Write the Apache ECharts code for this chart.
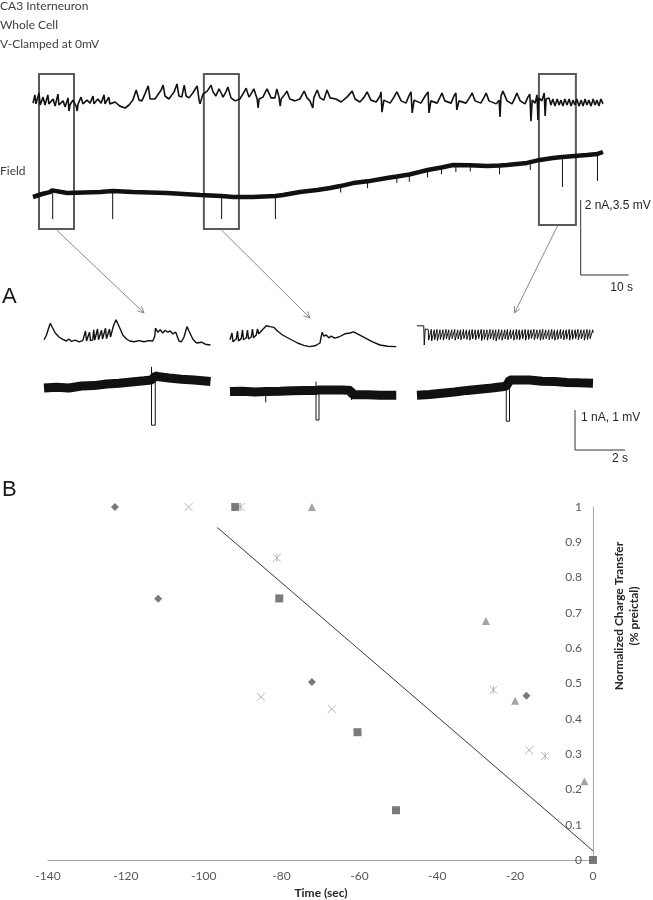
<!DOCTYPE html>
<html><head><meta charset="utf-8">
<script src="https://cdn.jsdelivr.net/npm/echarts/dist/echarts.min.js"></script>
<style>html,body{margin:0;padding:0;background:#fff}#c{width:653px;height:900px}</style>
</head><body><div id="c"></div>
<script>
// ---------- Panel A : overview traces (time in s, cell current in nA, field in mV)
const cellTrace = [
[0,-0.03],[0.4,0.19],[0.6,-0.05],[1.25,0.24],[1.5,-0.08],[2.1,0.13],[2.5,-0.08],[3.1,0.19],[3.3,-0.05],[4.2,0.08],[4.6,-0.11],[5.2,0.21],[5.4,-0.08],[6.25,0.03],[6.7,-0.13],[7.3,0.11],[7.5,-0.24],[7.7,-0.08],[8.3,0.05],[9.0,-0.11],[9.2,-0.24],[9.4,-0.05],[10.0,0.13],[10.4,-0.05],[11.25,0.05],[11.9,-0.03],[12.5,0.16],[12.7,-0.05],[13.5,0.08],[14.2,-0.03],[14.8,0.19],[15.0,-0.05],[15.8,0.13],[16.0,-0.05],[17.1,0.0],[18.1,-0.11],[19.2,-0.16],[20.0,-0.08],
[20.8,0.05],[21.5,0.32],[21.7,0.37],[22.1,0.05],[22.7,0.03],[23.3,0.21],[24.0,0.43],[24.4,0.08],[25.4,0.08],[26.7,0.32],[27.1,0.45],[27.5,0.16],[28.3,0.08],[29.4,0.27],[30.0,0.48],[30.4,0.16],[31.0,0.13],[31.5,0.45],[31.9,0.16],[32.5,0.11],[33.3,0.24],[34.2,0.43],[34.6,0.05],[34.8,-0.05],[35.4,0.21],[36.3,0.29],[37.1,0.45],[37.5,0.27],[38.1,0.16],[38.75,0.35],[39.2,0.24],[39.6,0.13],[40.2,0.27],[40.6,0.40],[41.25,0.11],[42.1,0.03],[43.1,0.08],[44.0,0.27],[44.4,0.37],[45.0,0.13],[45.4,0.21],[46.0,0.35],[46.7,0.08],[46.9,-0.16],[47.1,0.08],[47.9,0.13],[48.75,0.35],[49.6,0.11],[50.4,0.11],[50.8,0.35],[51.25,0.13],[51.5,-0.11],[51.7,0.08],[52.5,0.21],[52.9,0.29],[53.5,0.08],[54.6,0.03],[55.6,0.08],[56.5,0.29],[57.1,0.11],[57.7,0.03],[58.3,-0.16],[58.5,0.11],[59.2,0.32],[59.8,0.11],[60.6,0.05],[61.25,0.32],[61.9,0.11],[63.1,0.08],
[64.2,0.0],[65.4,0.13],[66.5,0.29],[67.1,0.08],[68.1,0.0],[69.0,0.13],[69.6,0.27],[70.4,0.05],[71.5,0.0],[72.3,0.16],[72.5,0.27],[72.7,-0.27],[73.1,0.05],[74.4,-0.03],[75.2,0.13],[75.8,0.27],[76.7,0.03],[77.7,-0.03],[78.3,0.16],[78.75,0.27],[79.0,-0.29],[79.4,0.05],[80.8,-0.03],[81.7,0.16],[82.3,0.27],[82.5,-0.29],[82.9,0.03],[84.2,-0.03],[84.8,0.13],[85.2,0.24],[85.8,0.03],[87.1,-0.03],[87.7,0.16],[88.1,0.24],[88.3,-0.21],[88.75,0.03],[90.2,-0.03],[91.0,0.13],[91.5,0.24],[92.1,0.03],[93.3,-0.03],[94.0,0.13],[94.4,0.24],[95.0,0.03],[96.5,-0.05],[97.1,0.05],[97.3,-0.40],[97.5,0.16],[97.9,0.29],[98.75,0.03],[99.8,-0.05],[100.4,0.11],[100.8,0.24],[101.5,0.03],[102.5,-0.05],[103.1,0.13],[103.5,0.21],[103.75,-0.51],[104.0,0.05],[104.6,-0.03],[105.0,0.19],[105.2,-0.48],[105.4,0.11],[106.0,0.03],[106.5,0.24],[106.7,-0.37],[106.9,0.08],
[107.5,0.11],[107.9,-0.08],[108.3,0.08],[108.75,-0.11],[109.2,0.08],[109.6,-0.08],[110.0,0.05],[110.4,-0.11],[110.8,0.08],[111.25,-0.08],[111.7,0.08],[112.1,-0.11],[112.5,0.05],[112.9,-0.08],[113.3,0.08],[113.75,-0.11],[114.2,0.05],[114.6,-0.11],[115.0,0.08],[115.4,-0.08],[115.8,0.05],[116.25,-0.11],[116.7,0.08],[117.1,-0.08],[117.5,0.05],[117.9,-0.11],[118.3,0.08],[118.75,-0.05]
];
const fieldTrace = [
[0,-0.21],[1.9,-0.07],[3.5,0.02],[4.0,0.1],[7.1,-0.02],[14.0,0.02],[16.6,0.07],[20.8,0.02],[27.9,-0.02],[34.8,-0.12],[39.3,-0.16],[41.7,-0.21],[45.8,-0.21],[50.5,-0.16],[52.1,-0.12],[55.6,0.02],[59.2,0.12],[61.9,0.21],[64.0,0.30],[66.7,0.44],[69.7,0.52],[73.75,0.68],[75.8,0.75],[78.4,0.84],[80.6,0.96],[82.2,1.05],[85.1,1.17],[87.5,1.28],[91.0,1.27],[94.6,1.24],[97.2,1.26],[98.75,1.28],[102.9,1.38],[103.6,1.42],[105.6,1.52],[108.3,1.61],[110.3,1.66],[115.4,1.75],[117.6,1.80],[118.75,1.89]
];
const fieldSpikes = [
[4.1,0.07],[4.1,-1.24],'-',[16.6,0.07],[16.6,-1.24],'-',[39.3,-0.16],[39.3,-1.24],'-',[50.5,-0.16],[50.5,-1.24],'-',
[64.1,0.3],[64.1,0.0],'-',[69.7,0.52],[69.7,0.2],'-',[75.8,0.75],[75.8,0.45],'-',[78.4,0.84],[78.4,0.5],'-',[82.2,1.05],[82.2,0.7],'-',[85.1,1.17],[85.1,0.85],'-',[88.1,1.28],[88.1,0.95],'-',[91.1,1.27],[91.1,0.98],'-',[97.2,1.26],[97.2,0.85],'-',[103.6,1.42],[103.6,1.05],'-',[110.3,1.66],[110.3,0.26],'-',[117.6,1.80],[117.6,0.54]
];
// boxes marking the expanded windows (s), top in nA, bottom in mV
const boxStart = [1.25, 35.6, 105.4];
const boxEnd = [8.54, 42.9, 113.1];
const boxTopNA = 0.75;
const boxBottomMV = [-1.70, -1.70, -1.52];

// ---------- Panel A : expanded windows
const snipSpan = [6.64, 6.64, 7.04];
const snipCell1 = [[0,0.03],[0.1,0.15],[0.2,0.35],[0.25,0.44],[0.3,0.38],[0.45,0.2],[0.6,0.1],[0.75,0.04],[0.9,0.0],[1.0,0.05],[1.1,-0.01],[1.25,0.02],[1.4,-0.02],[1.55,0.01],[1.62,0.0],[1.66,0.25],[1.7,0.0],[1.78,0.02],[1.82,0.22],[1.86,0.01],[1.95,0.03],[1.99,0.28],[2.03,0.02],[2.1,0.04],[2.14,0.3],[2.18,0.03],[2.26,0.05],[2.3,0.27],[2.34,0.05],[2.42,0.06],[2.46,0.32],[2.5,0.06],[2.58,0.08],[2.62,0.3],[2.66,0.1],[2.72,0.15],[2.78,0.38],[2.88,0.53],[2.94,0.45],[3.0,0.41],[3.05,0.3],[3.15,0.15],[3.3,0.05],[3.43,0.0],[3.6,-0.02],[3.8,0.01],[4.0,-0.02],[4.2,0.01],[4.35,0.0],[4.43,0.12],[4.46,0.32],[4.55,0.22],[4.65,0.28],[4.75,0.2],[4.85,0.27],[4.95,0.22],[5.05,0.25],[5.15,0.18],[5.27,0.22],[5.4,0.0],[5.5,-0.02],[5.6,0.1],[5.72,0.36],[5.8,0.25],[5.95,0.05],[6.1,-0.05],[6.3,-0.03],[6.45,-0.08],[6.66,-0.1]];
const snipCell2 = [[0,0.03],[0.08,0.2],[0.12,-0.02],[0.25,0.05],[0.3,0.25],[0.34,0.0],[0.45,0.06],[0.5,0.28],[0.54,0.03],[0.65,0.08],[0.7,0.27],[0.74,0.05],[0.85,0.1],[0.9,0.3],[0.94,0.08],[1.05,0.15],[1.1,0.3],[1.15,0.18],[1.3,0.28],[1.45,0.38],[1.51,0.42],[1.6,0.36],[1.76,0.34],[1.9,0.25],[2.1,0.15],[2.4,0.05],[2.7,-0.05],[2.95,-0.11],[3.18,-0.14],[3.4,-0.12],[3.6,-0.05],[3.65,0.12],[3.69,0.22],[3.75,0.12],[3.85,0.15],[3.95,0.08],[4.05,0.12],[4.19,0.07],[4.35,0.1],[4.6,0.18],[4.8,0.2],[4.94,0.23],[5.1,0.18],[5.4,0.08],[5.7,-0.02],[6.0,-0.1],[6.3,-0.13],[6.65,-0.14]];
const snipCell3 = [[0,0.38],[0.27,0.38],[0.29,-0.1],[0.33,0.3],
[0.45,0.29],[0.465,0.02],[0.57,0.29],[0.585,0.0],[0.69,0.28],[0.705,0.03],[0.80,0.29],[0.815,0.01],[0.92,0.28],[0.935,0.04],[1.04,0.28],[1.055,0.02],[1.16,0.29],[1.175,0.05],[1.27,0.28],[1.285,0.03],[1.39,0.28],[1.405,0.06],[1.51,0.29],[1.525,0.02],[1.63,0.28],[1.645,0.05],[1.74,0.28],[1.755,0.03],[1.86,0.29],[1.875,0.06],[1.98,0.28],[1.995,0.04],[2.10,0.28],[2.115,0.02],[2.21,0.29],[2.225,0.05],[2.33,0.28],[2.345,0.03],[2.45,0.28],[2.465,0.06],[2.57,0.29],[2.585,0.01],[2.68,0.28],[2.695,0.04],[2.80,0.28],[2.815,0.02],[2.92,0.29],[2.935,0.05],[3.04,0.28],[3.055,0.03],[3.15,0.28],[3.165,0.0],[3.27,0.29],[3.285,0.04],[3.39,0.28],[3.405,0.02],[3.51,0.28],[3.525,0.05],[3.62,0.29],[3.635,0.03],[3.74,0.28],[3.755,0.06],[3.86,0.28],[3.875,0.02],[3.98,0.29],[3.995,0.04],[4.09,0.28],[4.105,0.03],[4.21,0.28],[4.225,0.05],[4.33,0.29],[4.345,0.02],[4.45,0.28],[4.465,0.04],[4.56,0.28],[4.575,0.06],[4.68,0.29],[4.695,0.03],[4.80,0.28],[4.815,0.05],[4.92,0.28],[4.935,0.02],[5.03,0.29],[5.045,0.04],[5.15,0.28],[5.165,0.06],[5.27,0.28],[5.285,0.03],[5.39,0.29],[5.405,0.05],[5.50,0.28],[5.515,0.02],[5.62,0.28],[5.635,0.04],[5.74,0.29],[5.755,0.06],[5.86,0.28],[5.875,0.03],[5.97,0.28],[5.985,0.05],[6.09,0.29],[6.105,0.02],[6.21,0.28],[6.225,0.04],[6.33,0.28],[6.345,0.06],[6.44,0.29],[6.455,0.03],[6.56,0.28],[6.575,0.05],[6.68,0.28],[6.695,0.02],[6.80,0.29],[6.815,0.04],[6.91,0.28],[6.925,0.06],[7.03,0.28],[7.04,0.2]];
const snipField1 = [[0,0.0],[0.5,0.02],[1.0,0.0],[1.5,0.05],[2.0,0.06],[2.5,0.1],[3.0,0.12],[3.5,0.15],[4.0,0.18],[4.3,0.2],[4.45,0.3],[4.6,0.28],[5.0,0.25],[5.5,0.22],[6.0,0.2],[6.66,0.16]];
const snipField2 = [[0,-0.09],[0.5,-0.08],[1.0,-0.1],[1.43,-0.09],[2.0,-0.08],[2.5,-0.07],[3.0,-0.06],[3.44,-0.06],[3.56,-0.05],[4.0,-0.05],[4.5,-0.05],[4.84,-0.06],[4.88,-0.17],[5.5,-0.17],[6.0,-0.18],[6.65,-0.18]];
const snipField3 = [[0,-0.18],[0.5,-0.16],[1.0,-0.13],[1.5,-0.1],[2.0,-0.06],[2.5,-0.03],[3.0,0.0],[3.4,0.03],[3.57,0.05],[3.72,0.2],[3.9,0.2],[4.5,0.2],[5.0,0.17],[5.5,0.16],[6.0,0.14],[6.5,0.13],[7.04,0.12]];
const snipPulse1 = [[4.3,0.53],[4.3,-0.93],[4.45,-0.93],[4.45,0.28]];
const snipPulse2 = [[1.43,-0.09],[1.43,-0.36],'-',[3.44,0.16],[3.44,-0.8],[3.56,-0.8],[3.56,-0.05],'-',[4.86,-0.06],[4.86,-0.3]];
const snipPulse3 = [[3.57,0.24],[3.57,-0.83],[3.7,-0.83],[3.7,0.2]];
const arrowTip = [[4.0,0.7],[3.2,0.575],[3.9,0.7]];

// ---------- Panel B : normalized charge transfer vs time
const xTicks = {min:-140, max:0, interval:20};
const diamondPts = [[-122.8,1.0],[-111.7,0.74],[-72.2,0.504],[-17.1,0.465]];
const crossPts = [[-103.9,1.0],[-85.3,0.462],[-67.1,0.428],[-16.4,0.311]];
const squarePts = [[-91.9,1.0],[-80.6,0.741],[-60.5,0.362],[-50.6,0.141],[0,0]];
const starPts = [[-90.5,1.0],[-81.2,0.856],[-25.6,0.482],[-12.3,0.295]];
const trianglePts = [[-72.2,1.0],[-27.5,0.677],[-20.0,0.451],[-2.2,0.223]];
const trendLine = [[-96.5,0.942],[0,0.026]];

const traceGrids = [
  {left:33, top:72, width:570, height:60},   // 0 cell overview
  {left:33, top:140, width:570, height:90},  // 1 field overview
  {left:44, top:310, width:166, height:60},  // 2 cell snip 1
  {left:230, top:310, width:166, height:60}, // 3 cell snip 2
  {left:417, top:310, width:176, height:60}, // 4 cell snip 3
  {left:44, top:360, width:166, height:70},  // 5 field snip 1
  {left:230, top:360, width:166, height:70}, // 6 field snip 2
  {left:417, top:360, width:176, height:70}  // 7 field snip 3
];
const xr = [[0,118.75],[0,118.75],[0,snipSpan[0]],[0,snipSpan[1]],[0,snipSpan[2]],[0,snipSpan[0]],[0,snipSpan[1]],[0,snipSpan[2]]];
const yr = [[-0.8,0.8],[-1.75,2.45],[-0.725,0.775],[-0.725,0.775],[-0.725,0.775],[-1.05,0.7],[-1.05,0.7],[-1.05,0.7]];

const grids = traceGrids.concat([{left:48, top:507, width:545, height:353}]);
const xAxes = xr.map((r,i)=>({gridIndex:i, type:'value', min:r[0], max:r[1], show:false}));
const yAxes = yr.map((r,i)=>({gridIndex:i, type:'value', min:r[0], max:r[1], show:false}));
const lblFont = {color:'#595959', fontFamily:'Lato', fontSize:12};
xAxes.push({gridIndex:8, type:'value', min:xTicks.min, max:xTicks.max, interval:xTicks.interval,
  axisLine:{show:true, onZero:false, lineStyle:{color:'#a6a6a6', width:1}}, axisTick:{show:false}, splitLine:{show:false},
  axisLabel:Object.assign({margin:10}, lblFont)});
yAxes.push({gridIndex:8, type:'value', min:0, max:1, interval:0.1, position:'right',
  axisLine:{show:true, onZero:false, lineStyle:{color:'#a6a6a6', width:1}}, axisTick:{show:false}, splitLine:{show:false},
  axisLabel:Object.assign({inside:true, margin:11}, lblFont)});

function trace(idx, data, w){
  return {type:'line', xAxisIndex:idx, yAxisIndex:idx, data:data, symbol:'none', silent:true, clip:false,
    lineStyle:{color:'#111', width:w}, connectNulls:false};
}
const series = [
  trace(0, cellTrace, 1.6),
  trace(1, fieldTrace, 4.5),
  trace(1, fieldSpikes, 1),
  trace(2, snipCell1, 1.4), trace(3, snipCell2, 1.4), trace(4, snipCell3, 1),
  trace(5, snipField1, 9), trace(6, snipField2, 9), trace(7, snipField3, 9),
  trace(5, snipPulse1, 1), trace(6, snipPulse2, 1), trace(7, snipPulse3, 1)
];
function sc(data, symbol, size, style){
  return {type:'scatter', xAxisIndex:8, yAxisIndex:8, data:data, symbol:symbol, symbolSize:size, itemStyle:style, z:5};
}
series.push({type:'line', xAxisIndex:8, yAxisIndex:8, data:trendLine, symbol:'none', lineStyle:{color:'#3a3a3a', width:1}, z:3});
series.push(sc(diamondPts, 'diamond', 8, {color:'#595959'}));
series.push(sc(crossPts, 'path://M0,0L10,10M10,0L0,10', 8, {color:'transparent', borderColor:'#a6a6a6', borderWidth:1}));
series.push(sc(squarePts, 'rect', 8, {color:'#595959'}));
series.push(sc(starPts, 'path://M0,0L10,10M10,0L0,10M5,0L5,10', 8, {color:'transparent', borderColor:'#a6a6a6', borderWidth:1}));
series.push(sc(trianglePts, 'triangle', 8, {color:'#8c8c8c'}));

const chart = echarts.init(document.getElementById('c'));
chart.setOption({animation:false, backgroundColor:'#fff', grid:grids, xAxis:xAxes, yAxis:yAxes, series:series});

const P = (g, pt) => chart.convertToPixel({gridIndex:g}, pt);
function txt(x, y, text, font, fill, align, rot){
  return {type:'text', x:x, y:y, rotation:rot||0, silent:true,
    style:{text:text, font:font, fill:fill||'#404040', align:align||'left', verticalAlign:'middle', textAlign:align||'left', textVerticalAlign:'middle'}};
}
const G = [];
const bodyFont = '12px Lato';
G.push(txt(0, 6, 'CA3 Interneuron', bodyFont));
G.push(txt(0, 25, 'Whole Cell', bodyFont));
G.push(txt(0, 44, 'V-Clamped at 0mV', bodyFont));
G.push(txt(0, 171, 'Field', bodyFont));
G.push(txt(2, 297, 'A', '22px "Liberation Sans"', '#1a1a1a'));
G.push(txt(2, 490, 'B', '22px "Liberation Sans"', '#1a1a1a'));
// boxes and arrows
for (let i = 0; i < 3; i++) {
  const a = P(0, [boxStart[i], boxTopNA]);
  const b = P(1, [boxEnd[i], boxBottomMV[i]]);
  G.push({type:'rect', silent:true, shape:{x:a[0], y:a[1], width:b[0]-a[0], height:b[1]-a[1]}, style:{fill:'none', stroke:'#595959', lineWidth:2}});
  const s = [(a[0]+b[0])/2, b[1]+1];
  const t = P(2+i, arrowTip[i]);
  G.push({type:'line', silent:true, shape:{x1:s[0], y1:s[1], x2:t[0], y2:t[1]}, style:{stroke:'#8a8a8a', lineWidth:1}});
  const ang = Math.atan2(t[1]-s[1], t[0]-s[0]);
  const L = 7, sp = 0.45;
  G.push({type:'polyline', silent:true, shape:{points:[
    [t[0]-L*Math.cos(ang-sp), t[1]-L*Math.sin(ang-sp)], [t[0], t[1]], [t[0]-L*Math.cos(ang+sp), t[1]-L*Math.sin(ang+sp)]]},
    style:{stroke:'#8a8a8a', lineWidth:1, fill:'none'}});
}
// scale bar 1 : 2 nA / 3.5 mV, 10 s
{
  const x0 = P(0, [114.1, 0])[0], x1 = P(0, [124.1, 0])[0];
  const y0 = P(1, [0, -3.85])[1];
  const h = P(0, [0, 0])[1] - P(0, [0, 2])[1];
  G.push({type:'polyline', silent:true, shape:{points:[[x0, y0-h],[x0, y0],[x1, y0]]}, style:{stroke:'#333', lineWidth:1, fill:'none'}});
  G.push(txt(x0+4, y0-h+6, '2 nA,3.5 mV', '12px "Liberation Sans"', '#262626'));
  G.push(txt(x0+41, y0+13, '10 s', '12px "Liberation Sans"', '#262626', 'center'));
}
// scale bar 2 : 1 nA / 1 mV, 2 s
{
  const o = P(7, [6.32, -1.55]);
  const x1 = P(7, [8.32, 0])[0];
  const h = P(2, [0, 0])[1] - P(2, [0, 1])[1];
  G.push({type:'polyline', silent:true, shape:{points:[[o[0], o[1]-h],[o[0], o[1]],[x1, o[1]]]}, style:{stroke:'#333', lineWidth:1, fill:'none'}});
  G.push(txt(o[0]+6, o[1]-h+8, '1 nA, 1 mV', '12px "Liberation Sans"', '#262626'));
  G.push(txt(o[0]+45, o[1]+9, '2 s', '12px "Liberation Sans"', '#262626', 'center'));
}
// panel B axis titles
G.push(txt(321, 893, 'Time (sec)', 'bold 12px Lato', '#262626', 'center'));
G.push(txt(619, 616, 'Normalized Charge Transfer', 'bold 12px Lato', '#262626', 'center', Math.PI/2));
G.push(txt(634, 616, '(% preictal)', 'bold 12px Lato', '#262626', 'center', Math.PI/2));
chart.setOption({graphic:G});
</script></body></html>
